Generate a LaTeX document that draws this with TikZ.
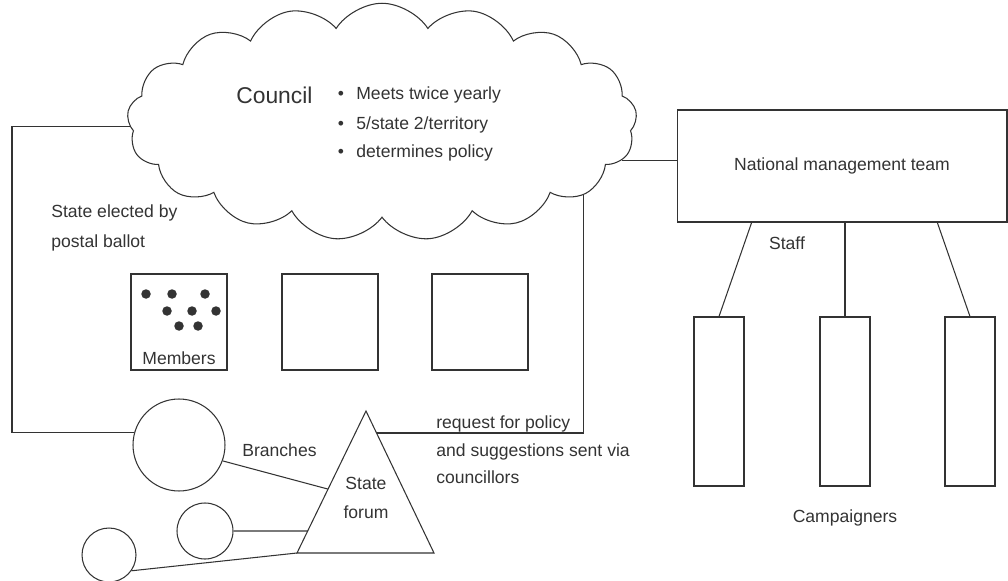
\documentclass[tikz,border=0pt]{standalone}
\usepackage{fontspec}
\setmainfont{Liberation Sans}
\usetikzlibrary{shapes.symbols,calc,positioning}
\definecolor{ink}{gray}{0.2}

\begin{document}
\begin{tikzpicture}[x=0.02cm,y=-0.02cm,
    ln/.style={draw=ink,line width=0.6pt},
    lbl/.style={text=ink,font=\fontsize{10}{16}\selectfont,align=left,inner sep=0pt},
    memberbox/.style={ln,minimum width=1.92cm,minimum height=1.92cm,inner sep=0pt},
    campbox/.style={ln,minimum width=1cm,minimum height=3.38cm,inner sep=0pt},
    branch/.style={ln,circle,inner sep=0pt}]
    \useasboundingbox (0,0) rectangle (1008,581);

    % The council cloud with its points
    \node[ln,cloud,cloud puffs=17,cloud puff arc=115,aspect=2.2,minimum width=10.2cm,minimum height=4.75cm] (council) at (382,122) {};
    \node[lbl,font=\fontsize{13}{15}\selectfont,anchor=west] (counciltxt) at (236,95) {Council};
    \foreach \y/\txt [count=\i] in {95/{Meets twice yearly},125/{5/state 2/territory},153/{determines policy}} {
    \node[lbl] (bul\i) at (341,\y) {\textbullet};
    \node[lbl,anchor=west] (pt\i) at (356,\y) {\txt};
    }

    % Member boxes
    \foreach \x [count=\i] in {179,330,480} {
    \node[memberbox] (mbox\i) at (\x,322) {};
    }
    \foreach \x/\y in {146/294,172/294,205/294,167/311,192/311,216/311,179/326,198/326} {
    \fill[ink] (\x,\y) circle (0.095cm);
    }
    \node[lbl,above=3pt of mbox1.south] (members) {Members};

    % Branches and the state forum
    \node[branch,minimum size=1.84cm] (branch1) at (179,445) {};
    \node[branch,minimum size=1.12cm] (branch2) at (205,531) {};
    \node[branch,minimum size=1.08cm] (branch3) at (109,555) {};
    \coordinate (fapex) at (366,411);
    \coordinate (fleft) at (297,553);
    \coordinate (fright) at (434,553);
    \draw[ln] (fapex) -- (fleft) -- (fright) -- cycle;
    \node[lbl,align=center,font=\fontsize{10}{17}\selectfont] (forum) at (366,498) {State\\forum};

    % National team and campaigners
    \node[lbl,ln,minimum width=6.6cm,minimum height=2.24cm] (nmt) at (842,166) {National management team};
    \foreach \x [count=\i] in {719,845,970} {
    \node[campbox] (camp\i) at (\x,401.5) {};
    }
    \node[lbl] (staff) at (787,243) {Staff};
    \node[lbl] (campaigners) at (845,518) {Campaigners};

    % Text labels
    \node[lbl,anchor=west,font=\fontsize{10}{17}\selectfont] (elected) at (51,228) {State elected by\\postal ballot};
    \node[lbl,anchor=west,font=\fontsize{10}{15.6}\selectfont] (request) at (436,450) {request for policy\\and suggestions sent via\\councillors};
    \node[lbl,anchor=west] (branches) at (242,450) {Branches};

    % Connectors
    \coordinate (lside) at (12,300);
    \draw[ln] (branch1.164) -| (lside) |- (council.181);
    \draw[ln] (branch1.-20) -- ($(fapex)!0.55!(fleft)$);
    \draw[ln] (branch2.east) -- ($(fapex)!0.845!(fleft)$);
    \draw[ln] (branch3.-35) -- (fleft);
    \draw[ln] ($(fapex)!0.155!(fright)$) -| (council.-20);
    \draw[ln] (council.-9) -- (council.-9 -| nmt.west);
    \draw[ln] ($(nmt.south west)!0.227!(nmt.south east)$) -- (camp1.north);
    \draw[ln] (camp2.north |- nmt.south) -- (camp2.north);
    \draw[ln] ($(nmt.south west)!0.788!(nmt.south east)$) -- (camp3.north);

\end{tikzpicture}
\end{document}
